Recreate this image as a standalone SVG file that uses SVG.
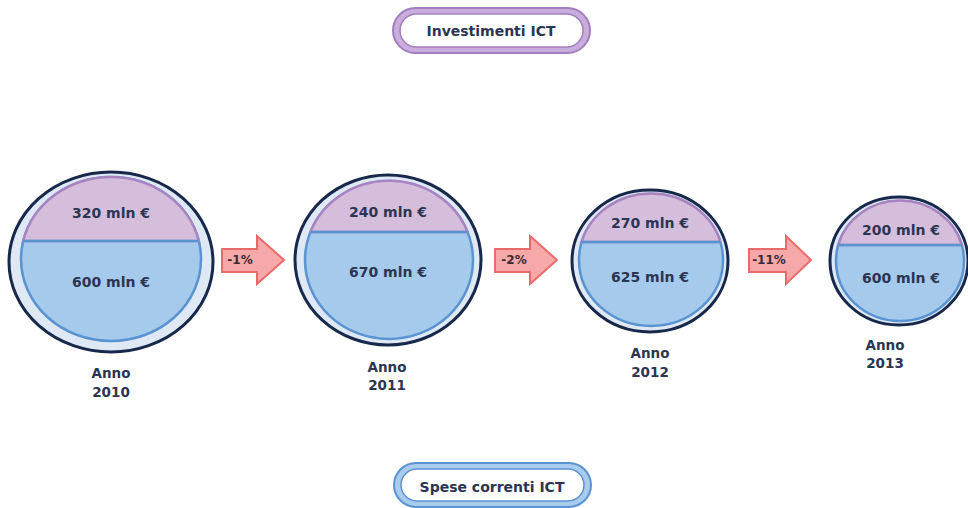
<svg xmlns="http://www.w3.org/2000/svg" width="968" height="508" viewBox="0 0 968 508">
<style>
.t{font-family:"DejaVu Sans","Liberation Sans",sans-serif;font-weight:bold;fill:#2b3552;text-anchor:middle}
.v{font-size:14px}
.a{font-size:13.5px}
.p{font-size:14px}
.outer{fill:#dfe9f5;stroke:#17284a;stroke-width:3}
.blue{fill:#a5caec;stroke:#5a93d2;stroke-width:2.5}
.purple{fill:#d5bedb;stroke:#a784c0;stroke-width:2.5}
.div{stroke:#5a93d2;stroke-width:2.5}
.arrow{fill:#f7a8a8;stroke:#e86b6b;stroke-width:2;stroke-linejoin:miter}
.al{font-family:"DejaVu Sans","Liberation Sans",sans-serif;font-weight:bold;font-size:12px;fill:#3a2a35;text-anchor:middle}
</style>
<rect width="968" height="508" fill="#ffffff"/>
<g id="legend-investimenti">
<rect x="393" y="8" width="197" height="45" rx="22.5" fill="#c9aedd" stroke="#a27dbd" stroke-width="2"/>
<rect x="400" y="14" width="183" height="33" rx="16.5" fill="#ffffff" stroke="#a27dbd" stroke-width="1.5"/>
<text class="t p" x="491" y="36">Investimenti ICT</text>
</g>
<g id="legend-spese">
<rect x="394" y="463" width="197" height="44" rx="22" fill="#a9cbee" stroke="#5a93d2" stroke-width="2"/>
<rect x="401" y="469" width="183" height="32" rx="16" fill="#ffffff" stroke="#5a93d2" stroke-width="1.5"/>
<text class="t p" x="492" y="492">Spese correnti ICT</text>
</g>
<g id="anno-2010">
<ellipse class="outer" cx="111" cy="262" rx="102" ry="90"/>
<ellipse class="blue" cx="111" cy="259" rx="90" ry="82"/>
<path class="purple" d="M23.2,241 A90,82 0 0 1 198.8,241 Z"/>
<line class="div" x1="23.2" y1="241" x2="198.8" y2="241"/>
<text class="t v" x="111" y="218">320 mln €</text>
<text class="t v" x="111" y="287">600 mln €</text>
<text class="t a" x="111" y="378">Anno</text>
<text class="t a" x="111" y="397">2010</text>
</g>
<g id="anno-2011">
<ellipse class="outer" cx="388" cy="260" rx="93" ry="85"/>
<ellipse class="blue" cx="389" cy="260" rx="84" ry="79"/>
<path class="purple" d="M310.4,232 A84,79 0 0 1 467.6,232 Z"/>
<line class="div" x1="310.4" y1="232" x2="467.6" y2="232"/>
<text class="t v" x="388" y="217">240 mln €</text>
<text class="t v" x="388" y="277">670 mln €</text>
<text class="t a" x="387" y="372">Anno</text>
<text class="t a" x="387" y="390">2011</text>
</g>
<g id="anno-2012">
<ellipse class="outer" cx="650" cy="261" rx="78" ry="71"/>
<ellipse class="blue" cx="651" cy="260" rx="72" ry="66"/>
<path class="purple" d="M581.6,242 A72,66 0 0 1 720.4,242 Z"/>
<line class="div" x1="581.6" y1="242" x2="720.4" y2="242"/>
<text class="t v" x="650" y="228">270 mln €</text>
<text class="t v" x="650" y="282">625 mln €</text>
<text class="t a" x="650" y="358">Anno</text>
<text class="t a" x="650" y="377">2012</text>
</g>
<g id="anno-2013">
<ellipse class="outer" cx="899" cy="261" rx="69" ry="64"/>
<ellipse class="blue" cx="900" cy="261" rx="64" ry="60"/>
<path class="purple" d="M838.2,245 A64,60 0 0 1 961.8,245 Z"/>
<line class="div" x1="838.2" y1="245" x2="961.8" y2="245"/>
<text class="t v" x="901" y="235">200 mln €</text>
<text class="t v" x="901" y="283">600 mln €</text>
<text class="t a" x="885" y="350">Anno</text>
<text class="t a" x="885" y="368">2013</text>
</g>
<g id="connectors">
<polygon class="arrow" points="222,249 257,249 257,236 284,260 257,284 257,272 222,272"/>
<text class="al" x="240" y="264">-1%</text>
<polygon class="arrow" points="495,249 530,249 530,236 557,260 530,284 530,272 495,272"/>
<text class="al" x="514" y="264">-2%</text>
<polygon class="arrow" points="749,249 786,249 786,236 811,260 786,284 786,272 749,272"/>
<text class="al" x="769" y="264">-11%</text>
</g>
</svg>
